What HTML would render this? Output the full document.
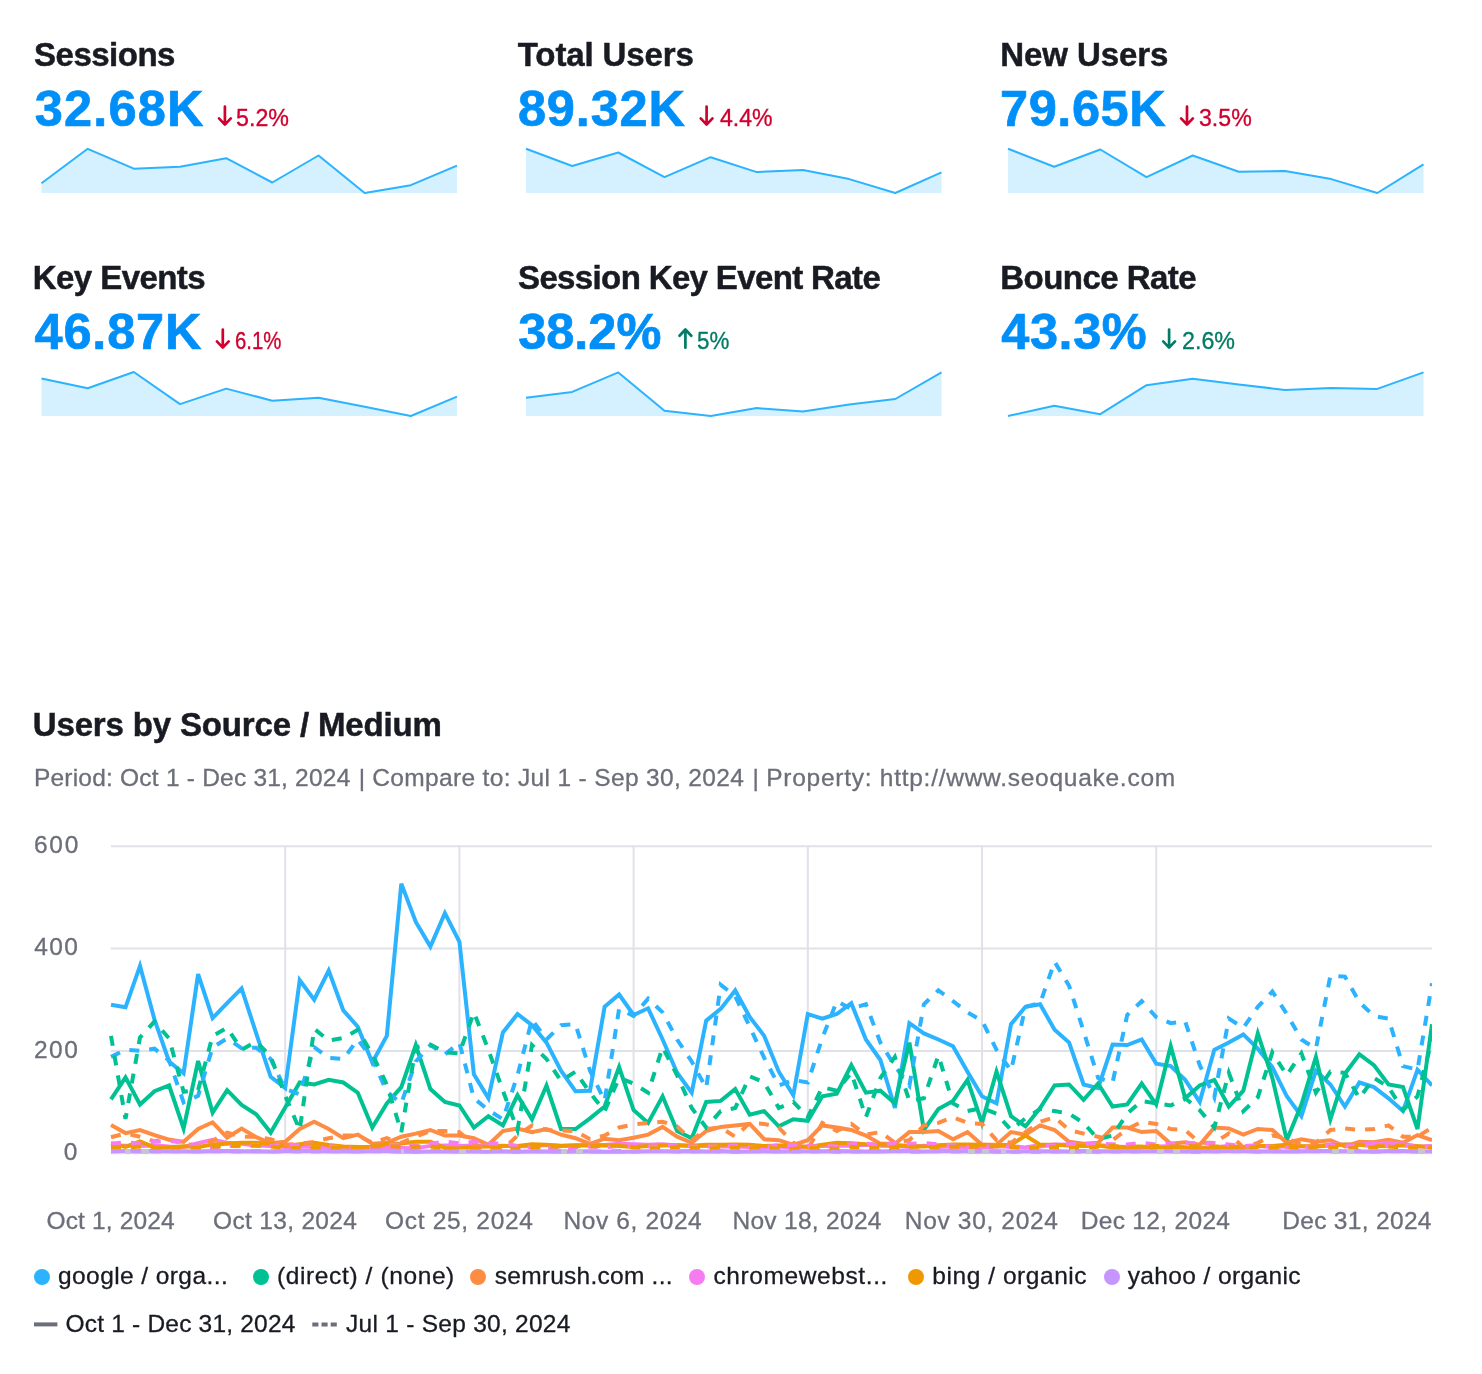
<!DOCTYPE html>
<html lang="en">
<head>
<meta charset="utf-8">
<title>Users by Source / Medium</title>
<style>
html,body{margin:0;padding:0;background:#fff;}
body{width:1482px;height:1374px;position:relative;overflow:hidden;font-family:"Liberation Sans",Arial,sans-serif;color:#191b23;}
.t{position:absolute;white-space:nowrap;line-height:1;margin:0;padding:0;}
.h{font-weight:700;font-size:33px;color:#191b23;-webkit-text-stroke:0.5px #191b23;}
.v{font-weight:700;font-size:50.5px;color:#008ff8;-webkit-text-stroke:0.7px #008ff8;}
.d{font-weight:400;font-size:24.5px;-webkit-text-stroke:0.35px currentColor;}
.red{color:#d1002f;} .green{color:#007c65;}
.sub{font-size:24.5px;color:#6c6e79;-webkit-text-stroke:0.3px #6c6e79;}
.ax{font-size:24.5px;color:#6c6e79;-webkit-text-stroke:0.3px #6c6e79;}
.lg{font-size:24.5px;color:#191b23;-webkit-text-stroke:0.3px #191b23;}
.dot{position:absolute;width:16px;height:16px;border-radius:50%;}
svg{position:absolute;left:0;top:0;overflow:visible;}
</style>
</head>
<body>

<svg id="sparks" width="1482" height="1374" viewBox="0 0 1482 1374">
<polygon fill="#d5f0ff" points="41.5,193 41.5,183.2 87.7,148.8 133.8,168.7 180.0,166.7 226.2,158.2 272.3,182.5 318.5,155.5 364.7,193.0 410.8,185.2 457.0,165.7 457.0,193"/>
<polyline fill="none" stroke="#2bb3ff" stroke-width="2" stroke-linejoin="round" points="41.5,183.2 87.7,148.8 133.8,168.7 180.0,166.7 226.2,158.2 272.3,182.5 318.5,155.5 364.7,193.0 410.8,185.2 457.0,165.7"/>
<path d="M224.9 106.5V124.4 M219.0 118.4L224.9 124.60000000000001L230.8 118.4" fill="none" stroke="#d1002f" stroke-width="2.7" stroke-linecap="round" stroke-linejoin="round"/>
<polygon fill="#d5f0ff" points="526.0,193 526.0,148.8 572.2,166.0 618.3,152.5 664.5,177.1 710.7,157.2 756.8,172.1 803.0,170.0 849.2,179.1 895.3,193.0 941.5,172.4 941.5,193"/>
<polyline fill="none" stroke="#2bb3ff" stroke-width="2" stroke-linejoin="round" points="526.0,148.8 572.2,166.0 618.3,152.5 664.5,177.1 710.7,157.2 756.8,172.1 803.0,170.0 849.2,179.1 895.3,193.0 941.5,172.4"/>
<path d="M706.6 106.5V124.4 M700.7 118.4L706.6 124.60000000000001L712.5 118.4" fill="none" stroke="#d1002f" stroke-width="2.7" stroke-linecap="round" stroke-linejoin="round"/>
<polygon fill="#d5f0ff" points="1008.0,193 1008.0,148.8 1054.2,166.7 1100.3,149.5 1146.5,177.1 1192.7,155.5 1238.8,171.7 1285.0,171.1 1331.2,179.1 1377.3,193.0 1423.5,164.3 1423.5,193"/>
<polyline fill="none" stroke="#2bb3ff" stroke-width="2" stroke-linejoin="round" points="1008.0,148.8 1054.2,166.7 1100.3,149.5 1146.5,177.1 1192.7,155.5 1238.8,171.7 1285.0,171.1 1331.2,179.1 1377.3,193.0 1423.5,164.3"/>
<path d="M1187.0 106.5V124.4 M1181.1 118.4L1187.0 124.60000000000001L1192.9 118.4" fill="none" stroke="#d1002f" stroke-width="2.7" stroke-linecap="round" stroke-linejoin="round"/>
<polygon fill="#d5f0ff" points="41.5,416 41.5,378.4 87.7,388.2 133.8,372.0 180.0,404.1 226.2,388.6 272.3,400.7 318.5,397.7 364.7,406.8 410.8,416.0 457.0,396.7 457.0,416"/>
<polyline fill="none" stroke="#2bb3ff" stroke-width="2" stroke-linejoin="round" points="41.5,378.4 87.7,388.2 133.8,372.0 180.0,404.1 226.2,388.6 272.3,400.7 318.5,397.7 364.7,406.8 410.8,416.0 457.0,396.7"/>
<path d="M222.8 329.5V347.4 M216.9 341.4L222.8 347.59999999999997L228.70000000000002 341.4" fill="none" stroke="#d1002f" stroke-width="2.7" stroke-linecap="round" stroke-linejoin="round"/>
<polygon fill="#d5f0ff" points="526.0,416 526.0,397.7 572.2,391.9 618.3,372.4 664.5,410.8 710.7,416.0 756.8,408.1 803.0,411.5 849.2,404.4 895.3,399.0 941.5,372.4 941.5,416"/>
<polyline fill="none" stroke="#2bb3ff" stroke-width="2" stroke-linejoin="round" points="526.0,397.7 572.2,391.9 618.3,372.4 664.5,410.8 710.7,416.0 756.8,408.1 803.0,411.5 849.2,404.4 895.3,399.0 941.5,372.4"/>
<path d="M685.4 347.7V329.8 M679.5 335.7L685.4 329.5L691.3 335.7" fill="none" stroke="#007c65" stroke-width="2.7" stroke-linecap="round" stroke-linejoin="round"/>
<polygon fill="#d5f0ff" points="1008.0,416 1008.0,416.0 1054.2,405.8 1100.3,414.2 1146.5,385.2 1192.7,378.8 1238.8,384.5 1285.0,389.9 1331.2,387.9 1377.3,388.9 1423.5,372.4 1423.5,416"/>
<polyline fill="none" stroke="#2bb3ff" stroke-width="2" stroke-linejoin="round" points="1008.0,416.0 1054.2,405.8 1100.3,414.2 1146.5,385.2 1192.7,378.8 1238.8,384.5 1285.0,389.9 1331.2,387.9 1377.3,388.9 1423.5,372.4"/>
<path d="M1169.1 329.5V347.4 M1163.1999999999998 341.4L1169.1 347.59999999999997L1175.0 341.4" fill="none" stroke="#007c65" stroke-width="2.7" stroke-linecap="round" stroke-linejoin="round"/>
</svg>
<svg id="chart" width="1482" height="1374" viewBox="0 0 1482 1374">
<defs><clipPath id="plot"><rect x="109" y="840" width="1323" height="320"/></clipPath></defs>
<g stroke="#e0e1e9" stroke-width="2" fill="none">
<line x1="110.8" x2="1432" y1="1153.15" y2="1153.15"/>
<line x1="110.8" x2="1432" y1="1050.88" y2="1050.88"/>
<line x1="110.8" x2="1432" y1="948.62" y2="948.62"/>
<line x1="110.8" x2="1432" y1="846.35" y2="846.35"/>
<line x1="285.2" x2="285.2" y1="846.4" y2="1153.2"/>
<line x1="459.4" x2="459.4" y1="846.4" y2="1153.2"/>
<line x1="633.6" x2="633.6" y1="846.4" y2="1153.2"/>
<line x1="807.8" x2="807.8" y1="846.4" y2="1153.2"/>
<line x1="982.0" x2="982.0" y1="846.4" y2="1153.2"/>
<line x1="1156.2" x2="1156.2" y1="846.4" y2="1153.2"/>
</g>
<g clip-path="url(#plot)" fill="none" stroke-width="4" stroke-linejoin="miter">
<polyline stroke="#2bb3ff" points="111.0,1004.8 125.5,1007.3 140.0,965.9 154.5,1019.6 169.1,1061.5 183.6,1073.3 198.1,974.1 212.6,1018.1 227.1,1003.2 241.6,988.4 256.2,1033.4 270.7,1076.8 285.2,1088.1 299.7,980.2 314.2,999.6 328.7,970.5 343.3,1010.4 357.8,1026.7 372.3,1062.5 386.8,1035.9 401.3,883.6 415.8,921.9 430.4,946.5 444.9,913.2 459.4,941.9 473.9,1074.3 488.4,1098.3 502.9,1032.4 517.5,1014.0 532.0,1025.2 546.5,1042.6 561.0,1070.7 575.5,1091.2 590.0,1090.7 604.6,1006.8 619.1,994.5 633.6,1015.0 648.1,1008.3 662.6,1039.5 677.1,1072.8 691.7,1092.7 706.2,1020.6 720.7,1008.9 735.2,990.4 749.7,1017.0 764.2,1035.9 778.8,1071.7 793.3,1095.3 807.8,1014.0 822.3,1018.6 836.8,1014.0 851.3,1003.2 865.9,1039.5 880.4,1060.0 894.9,1108.0 909.4,1023.2 923.9,1033.4 938.4,1039.5 953.0,1046.2 967.5,1071.7 982.0,1096.3 996.5,1103.4 1011.0,1024.2 1025.5,1006.8 1040.1,1004.2 1054.6,1029.8 1069.1,1042.6 1083.6,1084.5 1098.1,1088.1 1112.6,1044.6 1127.2,1045.1 1141.7,1039.5 1156.2,1063.6 1170.7,1066.1 1185.2,1079.9 1199.7,1101.9 1214.3,1049.8 1228.8,1042.6 1243.3,1034.4 1257.8,1048.7 1272.3,1067.1 1286.8,1096.3 1301.4,1116.2 1315.9,1070.7 1330.4,1084.5 1344.9,1106.5 1359.4,1082.5 1373.9,1087.1 1388.5,1098.3 1403.0,1111.1 1417.5,1069.7 1432.0,1085.5"/>
<polyline stroke="#00c192" points="111.0,1099.3 125.5,1077.4 140.0,1104.5 154.5,1091.2 169.1,1085.5 183.6,1128.5 198.1,1061.0 212.6,1112.6 227.1,1090.1 241.6,1105.0 256.2,1114.2 270.7,1132.6 285.2,1107.5 299.7,1082.5 314.2,1084.5 328.7,1079.9 343.3,1082.5 357.8,1092.7 372.3,1127.5 386.8,1103.4 401.3,1087.1 415.8,1045.1 430.4,1089.1 444.9,1101.9 459.4,1105.5 473.9,1127.5 488.4,1116.2 502.9,1125.4 517.5,1095.3 532.0,1119.3 546.5,1085.5 561.0,1129.0 575.5,1129.0 590.0,1118.3 604.6,1106.5 619.1,1067.1 633.6,1110.1 648.1,1122.9 662.6,1096.3 677.1,1131.0 691.7,1138.2 706.2,1101.9 720.7,1100.9 735.2,1089.1 749.7,1114.7 764.2,1111.1 778.8,1126.4 793.3,1119.3 807.8,1120.8 822.3,1096.3 836.8,1093.7 851.3,1065.1 865.9,1092.7 880.4,1090.7 894.9,1103.4 909.4,1042.6 923.9,1130.0 938.4,1109.1 953.0,1100.9 967.5,1079.9 982.0,1122.9 996.5,1071.7 1011.0,1116.2 1025.5,1126.4 1040.1,1108.0 1054.6,1085.5 1069.1,1084.5 1083.6,1099.9 1098.1,1083.5 1112.6,1106.5 1127.2,1104.5 1141.7,1083.5 1156.2,1104.5 1170.7,1046.2 1185.2,1098.3 1199.7,1085.5 1214.3,1079.9 1228.8,1106.5 1243.3,1090.7 1257.8,1033.4 1272.3,1077.9 1286.8,1140.2 1301.4,1104.5 1315.9,1056.9 1330.4,1119.3 1344.9,1073.8 1359.4,1054.4 1373.9,1065.1 1388.5,1084.5 1403.0,1087.1 1417.5,1129.0 1432.0,1024.2"/>
<polyline stroke="#ff8c43" points="111.0,1124.9 125.5,1133.1 140.0,1130.0 154.5,1135.1 169.1,1139.7 183.6,1141.8 198.1,1129.0 212.6,1122.3 227.1,1137.7 241.6,1128.5 256.2,1137.2 270.7,1143.3 285.2,1141.8 299.7,1129.0 314.2,1121.8 328.7,1129.0 343.3,1138.2 357.8,1134.6 372.3,1143.8 386.8,1142.8 401.3,1136.7 415.8,1133.6 430.4,1130.0 444.9,1135.6 459.4,1135.6 473.9,1138.2 488.4,1144.8 502.9,1131.0 517.5,1128.5 532.0,1132.1 546.5,1129.0 561.0,1134.6 575.5,1138.2 590.0,1143.8 604.6,1138.7 619.1,1140.2 633.6,1137.7 648.1,1134.6 662.6,1126.9 677.1,1136.7 691.7,1142.8 706.2,1131.0 720.7,1126.9 735.2,1125.4 749.7,1123.9 764.2,1139.2 778.8,1140.2 793.3,1144.8 807.8,1140.2 822.3,1125.4 836.8,1127.5 851.3,1130.0 865.9,1135.6 880.4,1143.8 894.9,1143.8 909.4,1132.1 923.9,1132.1 938.4,1131.0 953.0,1139.2 967.5,1132.1 982.0,1144.8 996.5,1144.8 1011.0,1132.1 1025.5,1134.6 1040.1,1125.4 1054.6,1130.0 1069.1,1141.8 1083.6,1143.8 1098.1,1142.8 1112.6,1127.5 1127.2,1127.5 1141.7,1132.1 1156.2,1131.0 1170.7,1143.8 1185.2,1142.3 1199.7,1144.8 1214.3,1127.5 1228.8,1128.5 1243.3,1134.6 1257.8,1129.0 1272.3,1130.0 1286.8,1142.8 1301.4,1139.2 1315.9,1141.8 1330.4,1140.2 1344.9,1146.4 1359.4,1141.8 1373.9,1142.3 1388.5,1139.7 1403.0,1142.8 1417.5,1135.1 1432.0,1140.2"/>
<polyline stroke="#f67cf2" points="111.0,1145.4 125.5,1145.8 140.0,1145.9 154.5,1145.4 169.1,1146.6 183.6,1146.9 198.1,1143.3 212.6,1139.7 227.1,1142.8 241.6,1143.7 256.2,1145.5 270.7,1145.9 285.2,1146.9 299.7,1146.7 314.2,1146.5 328.7,1148.1 343.3,1147.8 357.8,1148.4 372.3,1147.0 386.8,1147.4 401.3,1147.9 415.8,1148.3 430.4,1145.9 444.9,1145.4 459.4,1145.9 473.9,1145.6 488.4,1145.6 502.9,1145.9 517.5,1146.3 532.0,1146.3 546.5,1145.0 561.0,1145.8 575.5,1145.2 590.0,1144.8 604.6,1145.0 619.1,1143.8 633.6,1144.3 648.1,1144.7 662.6,1144.3 677.1,1145.4 691.7,1145.9 706.2,1145.9 720.7,1146.4 735.2,1146.4 749.7,1147.1 764.2,1147.8 778.8,1146.6 793.3,1147.9 807.8,1146.3 822.3,1146.0 836.8,1145.7 851.3,1145.8 865.9,1144.8 880.4,1145.8 894.9,1146.0 909.4,1146.9 923.9,1145.8 938.4,1146.9 953.0,1146.4 967.5,1147.8 982.0,1147.9 996.5,1146.5 1011.0,1146.2 1025.5,1147.4 1040.1,1146.5 1054.6,1144.5 1069.1,1144.8 1083.6,1145.4 1098.1,1144.9 1112.6,1146.6 1127.2,1146.9 1141.7,1147.8 1156.2,1146.6 1170.7,1146.3 1185.2,1147.3 1199.7,1147.8 1214.3,1147.2 1228.8,1145.9 1243.3,1146.9 1257.8,1146.1 1272.3,1147.1 1286.8,1146.5 1301.4,1146.5 1315.9,1146.3 1330.4,1144.5 1344.9,1144.8 1359.4,1144.8 1373.9,1143.4 1388.5,1142.8 1403.0,1144.3 1417.5,1146.2 1432.0,1146.9"/>
<polyline stroke="#ef9800" points="111.0,1143.3 125.5,1146.9 140.0,1141.3 154.5,1147.4 169.1,1147.5 183.6,1146.3 198.1,1146.9 212.6,1144.5 227.1,1143.8 241.6,1142.8 256.2,1142.8 270.7,1143.9 285.2,1145.9 299.7,1144.2 314.2,1142.8 328.7,1144.9 343.3,1146.5 357.8,1146.9 372.3,1146.8 386.8,1144.0 401.3,1143.4 415.8,1141.8 430.4,1141.8 444.9,1147.9 459.4,1148.5 473.9,1146.7 488.4,1146.6 502.9,1145.7 517.5,1146.1 532.0,1144.3 546.5,1144.8 561.0,1146.1 575.5,1145.4 590.0,1145.4 604.6,1145.4 619.1,1146.1 633.6,1146.9 648.1,1146.1 662.6,1145.6 677.1,1145.0 691.7,1145.8 706.2,1144.8 720.7,1144.8 735.2,1144.4 749.7,1144.7 764.2,1146.0 778.8,1145.6 793.3,1145.8 807.8,1146.9 822.3,1144.7 836.8,1142.8 851.3,1143.2 865.9,1144.3 880.4,1144.5 894.9,1145.0 909.4,1145.9 923.9,1146.6 938.4,1145.3 953.0,1144.4 967.5,1144.5 982.0,1144.7 996.5,1145.2 1011.0,1144.8 1025.5,1135.6 1040.1,1144.8 1054.6,1144.7 1069.1,1145.4 1083.6,1146.0 1098.1,1145.5 1112.6,1147.4 1127.2,1146.9 1141.7,1146.5 1156.2,1148.2 1170.7,1147.2 1185.2,1147.6 1199.7,1148.3 1214.3,1147.9 1228.8,1147.0 1243.3,1146.9 1257.8,1146.1 1272.3,1145.9 1286.8,1144.8 1301.4,1146.0 1315.9,1146.4 1330.4,1145.6 1344.9,1144.6 1359.4,1144.8 1373.9,1145.9 1388.5,1146.3 1403.0,1145.3 1417.5,1146.2 1432.0,1146.9"/>
<polyline stroke="#c695ff" points="111.0,1151.2 125.5,1151.0 140.0,1151.0 154.5,1150.9 169.1,1151.3 183.6,1151.2 198.1,1151.5 212.6,1151.1 227.1,1151.1 241.6,1151.2 256.2,1151.2 270.7,1151.5 285.2,1151.0 299.7,1151.0 314.2,1151.0 328.7,1151.3 343.3,1151.2 357.8,1151.5 372.3,1151.1 386.8,1151.1 401.3,1151.5 415.8,1151.7 430.4,1151.4 444.9,1151.4 459.4,1151.2 473.9,1151.4 488.4,1151.8 502.9,1151.2 517.5,1151.8 532.0,1151.3 546.5,1151.5 561.0,1151.7 575.5,1151.6 590.0,1151.2 604.6,1151.7 619.1,1151.7 633.6,1151.4 648.1,1151.3 662.6,1151.2 677.1,1151.3 691.7,1151.1 706.2,1151.4 720.7,1151.1 735.2,1151.7 749.7,1151.6 764.2,1151.3 778.8,1151.5 793.3,1151.2 807.8,1151.2 822.3,1151.3 836.8,1151.1 851.3,1151.3 865.9,1151.4 880.4,1151.4 894.9,1151.0 909.4,1151.0 923.9,1151.5 938.4,1151.0 953.0,1150.9 967.5,1151.2 982.0,1151.2 996.5,1151.2 1011.0,1151.4 1025.5,1151.2 1040.1,1151.2 1054.6,1151.2 1069.1,1151.6 1083.6,1150.9 1098.1,1151.2 1112.6,1151.3 1127.2,1151.0 1141.7,1151.2 1156.2,1151.2 1170.7,1151.1 1185.2,1151.5 1199.7,1151.2 1214.3,1151.3 1228.8,1150.9 1243.3,1150.9 1257.8,1151.4 1272.3,1151.2 1286.8,1151.5 1301.4,1151.3 1315.9,1151.0 1330.4,1150.9 1344.9,1151.2 1359.4,1151.4 1373.9,1151.4 1388.5,1151.1 1403.0,1150.9 1417.5,1151.5 1432.0,1151.2"/>
<polyline stroke="#2bb3ff" stroke-dasharray="10 10" points="111.0,1056.9 125.5,1049.8 140.0,1050.8 154.5,1048.7 169.1,1060.5 183.6,1102.4 198.1,1095.8 212.6,1047.2 227.1,1038.5 241.6,1048.2 256.2,1047.7 270.7,1059.0 285.2,1089.1 299.7,1094.2 314.2,1047.2 328.7,1057.9 343.3,1059.0 357.8,1039.5 372.3,1059.0 386.8,1091.7 401.3,1103.4 415.8,1061.5 430.4,1045.1 444.9,1054.4 459.4,1042.6 473.9,1098.3 488.4,1110.1 502.9,1119.3 517.5,1075.3 532.0,1019.6 546.5,1039.5 561.0,1025.2 575.5,1024.2 590.0,1070.7 604.6,1100.9 619.1,1008.9 633.6,1016.0 648.1,998.6 662.6,1012.4 677.1,1039.5 691.7,1061.5 706.2,1088.1 720.7,984.8 735.2,996.1 749.7,1026.7 764.2,1057.9 778.8,1085.5 793.3,1079.9 807.8,1082.5 822.3,1038.0 836.8,1001.2 851.3,1008.9 865.9,1004.2 880.4,1042.6 894.9,1066.1 909.4,1085.5 923.9,1004.2 938.4,990.4 953.0,1001.2 967.5,1012.4 982.0,1020.6 996.5,1049.8 1011.0,1070.7 1025.5,1006.8 1040.1,1003.2 1054.6,961.8 1069.1,985.8 1083.6,1031.3 1098.1,1077.9 1112.6,1082.5 1127.2,1015.0 1141.7,1001.2 1156.2,1017.0 1170.7,1023.2 1185.2,1021.6 1199.7,1065.1 1214.3,1097.3 1228.8,1018.6 1243.3,1027.8 1257.8,1006.8 1272.3,991.5 1286.8,1014.0 1301.4,1039.5 1315.9,1048.7 1330.4,975.6 1344.9,976.6 1359.4,1002.2 1373.9,1016.0 1388.5,1018.6 1403.0,1066.1 1417.5,1069.7 1432.0,983.3"/>
<polyline stroke="#00c192" stroke-dasharray="10 10" points="111.0,1035.9 125.5,1118.8 140.0,1037.5 154.5,1021.6 169.1,1038.5 183.6,1091.7 198.1,1090.1 212.6,1035.9 227.1,1027.8 241.6,1049.8 256.2,1041.6 270.7,1056.4 285.2,1095.8 299.7,1130.0 314.2,1028.8 328.7,1040.5 343.3,1038.0 357.8,1029.8 372.3,1054.4 386.8,1084.5 401.3,1132.1 415.8,1047.2 430.4,1044.6 444.9,1052.3 459.4,1053.3 473.9,1012.4 488.4,1049.8 502.9,1090.7 517.5,1130.0 532.0,1045.1 546.5,1059.0 561.0,1080.9 575.5,1071.7 590.0,1092.7 604.6,1111.1 619.1,1077.9 633.6,1083.5 648.1,1092.7 662.6,1047.2 677.1,1075.3 691.7,1108.0 706.2,1127.5 720.7,1111.1 735.2,1108.0 749.7,1076.3 764.2,1082.5 778.8,1108.0 793.3,1101.9 807.8,1117.2 822.3,1087.1 836.8,1090.7 851.3,1072.8 865.9,1117.2 880.4,1077.9 894.9,1056.9 909.4,1100.9 923.9,1098.3 938.4,1055.4 953.0,1103.4 967.5,1111.1 982.0,1108.0 996.5,1113.7 1011.0,1130.0 1025.5,1118.3 1040.1,1109.1 1054.6,1111.1 1069.1,1113.7 1083.6,1122.9 1098.1,1139.2 1112.6,1135.6 1127.2,1113.7 1141.7,1100.9 1156.2,1103.4 1170.7,1105.5 1185.2,1098.3 1199.7,1110.1 1214.3,1127.5 1228.8,1072.8 1243.3,1111.1 1257.8,1097.3 1272.3,1052.3 1286.8,1075.3 1301.4,1053.3 1315.9,1092.7 1330.4,1071.7 1344.9,1072.8 1359.4,1098.3 1373.9,1077.9 1388.5,1087.1 1403.0,1110.1 1417.5,1096.3 1432.0,1039.5"/>
<polyline stroke="#ff8c43" stroke-dasharray="10 10" points="111.0,1137.2 125.5,1133.6 140.0,1136.7 154.5,1141.3 169.1,1139.2 183.6,1143.8 198.1,1145.9 212.6,1140.8 227.1,1132.6 241.6,1136.7 256.2,1136.7 270.7,1139.2 285.2,1144.8 299.7,1143.8 314.2,1141.8 328.7,1138.2 343.3,1135.6 357.8,1135.6 372.3,1142.8 386.8,1138.2 401.3,1142.8 415.8,1136.7 430.4,1131.0 444.9,1131.0 459.4,1132.1 473.9,1144.8 488.4,1149.4 502.9,1149.4 517.5,1135.6 532.0,1125.4 546.5,1130.0 561.0,1130.5 575.5,1131.0 590.0,1139.2 604.6,1135.6 619.1,1127.5 633.6,1124.4 648.1,1122.9 662.6,1121.8 677.1,1126.4 691.7,1140.2 706.2,1129.0 720.7,1127.5 735.2,1136.7 749.7,1122.9 764.2,1123.9 778.8,1127.5 793.3,1142.8 807.8,1149.4 822.3,1122.9 836.8,1131.0 851.3,1123.9 865.9,1134.6 880.4,1132.1 894.9,1142.8 909.4,1140.2 923.9,1125.4 938.4,1122.9 953.0,1117.2 967.5,1122.9 982.0,1123.9 996.5,1140.2 1011.0,1142.8 1025.5,1132.1 1040.1,1121.8 1054.6,1117.2 1069.1,1130.0 1083.6,1133.6 1098.1,1136.7 1112.6,1140.2 1127.2,1129.0 1141.7,1121.8 1156.2,1123.9 1170.7,1129.0 1185.2,1130.0 1199.7,1142.8 1214.3,1142.8 1228.8,1133.6 1243.3,1147.4 1257.8,1142.8 1272.3,1135.6 1286.8,1138.2 1301.4,1144.8 1315.9,1142.8 1330.4,1130.0 1344.9,1128.5 1359.4,1130.0 1373.9,1129.0 1388.5,1125.4 1403.0,1136.7 1417.5,1136.7 1432.0,1127.5"/>
<polyline stroke="#f67cf2" stroke-dasharray="10 10" points="111.0,1143.8 125.5,1142.4 140.0,1143.6 154.5,1141.8 169.1,1141.3 183.6,1141.8 198.1,1146.9 212.6,1147.6 227.1,1146.1 241.6,1146.2 256.2,1144.8 270.7,1146.1 285.2,1144.4 299.7,1145.5 314.2,1147.5 328.7,1146.2 343.3,1147.9 357.8,1148.1 372.3,1146.9 386.8,1144.8 401.3,1144.7 415.8,1145.7 430.4,1143.8 444.9,1141.6 459.4,1143.4 473.9,1141.8 488.4,1143.8 502.9,1143.4 517.5,1146.0 532.0,1147.3 546.5,1147.9 561.0,1148.9 575.5,1148.5 590.0,1146.6 604.6,1147.3 619.1,1145.9 633.6,1145.9 648.1,1146.4 662.6,1146.3 677.1,1144.9 691.7,1146.6 706.2,1146.5 720.7,1146.9 735.2,1145.6 749.7,1147.5 764.2,1147.4 778.8,1144.9 793.3,1145.0 807.8,1145.9 822.3,1146.3 836.8,1146.2 851.3,1144.2 865.9,1143.4 880.4,1145.4 894.9,1142.7 909.4,1143.8 923.9,1143.1 938.4,1144.4 953.0,1145.4 967.5,1146.8 982.0,1147.4 996.5,1145.0 1011.0,1146.9 1025.5,1147.2 1040.1,1145.3 1054.6,1146.1 1069.1,1143.9 1083.6,1144.0 1098.1,1143.8 1112.6,1144.3 1127.2,1144.5 1141.7,1142.6 1156.2,1144.5 1170.7,1143.8 1185.2,1142.8 1199.7,1143.3 1214.3,1143.1 1228.8,1144.5 1243.3,1146.2 1257.8,1144.9 1272.3,1146.9 1286.8,1147.4 1301.4,1147.7 1315.9,1146.6 1330.4,1145.7 1344.9,1146.5 1359.4,1144.8 1373.9,1146.0 1388.5,1145.7 1403.0,1145.3 1417.5,1146.8 1432.0,1145.9"/>
<polyline stroke="#ef9800" stroke-dasharray="10 10" points="111.0,1147.4 125.5,1147.7 140.0,1146.6 154.5,1148.2 169.1,1147.9 183.6,1147.0 198.1,1147.7 212.6,1146.5 227.1,1145.9 241.6,1145.6 256.2,1145.8 270.7,1146.4 285.2,1147.9 299.7,1148.1 314.2,1147.4 328.7,1148.0 343.3,1148.3 357.8,1147.3 372.3,1146.3 386.8,1146.1 401.3,1146.9 415.8,1146.7 430.4,1146.4 444.9,1148.5 459.4,1149.1 473.9,1148.7 488.4,1148.9 502.9,1149.0 517.5,1148.6 532.0,1147.6 546.5,1146.6 561.0,1146.4 575.5,1145.9 590.0,1146.6 604.6,1145.5 619.1,1145.4 633.6,1147.0 648.1,1148.2 662.6,1148.6 677.1,1146.7 691.7,1147.9 706.2,1149.1 720.7,1147.4 735.2,1147.7 749.7,1148.4 764.2,1147.1 778.8,1149.1 793.3,1148.8 807.8,1147.9 822.3,1147.9 836.8,1148.9 851.3,1146.7 865.9,1148.1 880.4,1148.2 894.9,1148.3 909.4,1146.7 923.9,1146.9 938.4,1147.1 953.0,1146.7 967.5,1146.7 982.0,1146.4 996.5,1146.0 1011.0,1146.8 1025.5,1148.1 1040.1,1147.4 1054.6,1147.2 1069.1,1147.9 1083.6,1148.1 1098.1,1146.7 1112.6,1145.9 1127.2,1147.1 1141.7,1146.6 1156.2,1145.9 1170.7,1146.5 1185.2,1145.9 1199.7,1146.6 1214.3,1146.6 1228.8,1146.5 1243.3,1147.7 1257.8,1146.9 1272.3,1147.9 1286.8,1146.8 1301.4,1148.9 1315.9,1146.7 1330.4,1147.1 1344.9,1148.6 1359.4,1147.8 1373.9,1147.2 1388.5,1146.5 1403.0,1147.8 1417.5,1147.2 1432.0,1147.4"/>
<polyline stroke="#c695ff" stroke-dasharray="10 10" points="111.0,1151.2 125.5,1151.0 140.0,1151.6 154.5,1151.4 169.1,1151.4 183.6,1151.1 198.1,1151.3 212.6,1151.3 227.1,1151.1 241.6,1151.5 256.2,1151.1 270.7,1151.5 285.2,1151.2 299.7,1151.4 314.2,1151.4 328.7,1151.2 343.3,1151.3 357.8,1151.3 372.3,1151.3 386.8,1151.2 401.3,1151.5 415.8,1151.4 430.4,1151.1 444.9,1151.1 459.4,1151.2 473.9,1151.0 488.4,1151.1 502.9,1151.0 517.5,1151.4 532.0,1151.1 546.5,1151.2 561.0,1151.0 575.5,1151.0 590.0,1151.4 604.6,1151.4 619.1,1151.0 633.6,1151.5 648.1,1150.9 662.6,1151.0 677.1,1151.6 691.7,1151.5 706.2,1151.2 720.7,1151.5 735.2,1151.6 749.7,1151.1 764.2,1151.4 778.8,1151.2 793.3,1151.6 807.8,1151.4 822.3,1151.3 836.8,1151.7 851.3,1151.6 865.9,1151.3 880.4,1151.1 894.9,1151.1 909.4,1151.7 923.9,1151.4 938.4,1151.3 953.0,1151.5 967.5,1151.3 982.0,1151.5 996.5,1151.7 1011.0,1151.8 1025.5,1151.7 1040.1,1151.8 1054.6,1151.4 1069.1,1151.4 1083.6,1151.4 1098.1,1151.7 1112.6,1151.6 1127.2,1151.6 1141.7,1151.1 1156.2,1151.0 1170.7,1151.1 1185.2,1151.6 1199.7,1151.7 1214.3,1151.0 1228.8,1151.4 1243.3,1151.1 1257.8,1151.4 1272.3,1151.3 1286.8,1151.3 1301.4,1151.3 1315.9,1151.2 1330.4,1151.6 1344.9,1151.1 1359.4,1151.0 1373.9,1151.5 1388.5,1151.3 1403.0,1151.1 1417.5,1151.3 1432.0,1151.2"/>
<path stroke="#c4c7cf" stroke-width="5" d="M125 1151.4H130.4 M141.3 1151.4H149 M401 1151.4H404 M459 1151.4H466 M561 1151.4H567 M576 1151.4H583 M968 1151.4H975 M982 1151.4H989 M1001 1151.4H1006 M1070 1151.4H1075 M1086 1151.4H1092 M1157 1151.4H1164 M1173 1151.4H1180 M1332 1151.4H1339 M1347 1151.4H1354 M1418 1151.4H1425"/>
</g>
<line x1="34" x2="57.4" y1="1324.4" y2="1324.4" stroke="#6c6e79" stroke-width="4"/>
<line x1="312.3" x2="336.8" y1="1324.5" y2="1324.5" stroke="#6c6e79" stroke-width="4" stroke-dasharray="6.1 3.1"/>
</svg>
<div class="dot" style="left:33.8px;top:1268.7px;background:#2bb3ff"></div>
<div class="dot" style="left:252.6px;top:1268.7px;background:#00c192"></div>
<div class="dot" style="left:470.0px;top:1268.7px;background:#ff8c43"></div>
<div class="dot" style="left:688.8px;top:1268.7px;background:#f67cf2"></div>
<div class="dot" style="left:908.4px;top:1268.7px;background:#ef9800"></div>
<div class="dot" style="left:1103.6px;top:1268.7px;background:#c695ff"></div>
<div class="t h" id="h0" style="left:34.02px;top:37.77px;letter-spacing:-0.495px;">Sessions</div>
<div class="t v" id="v0" style="left:34.65px;top:83.65px;letter-spacing:1.218px;">32.68K</div>
<div class="t d red" id="d0" style="left:236.33px;top:105.56px;transform:scaleX(0.9487);transform-origin:0 0;">5.2%</div>
<div class="t h" id="h1" style="left:517.76px;top:37.77px;letter-spacing:-0.116px;">Total Users</div>
<div class="t v" id="v1" style="left:517.93px;top:83.65px;letter-spacing:0.850px;">89.32K</div>
<div class="t d red" id="d1" style="left:720.00px;top:105.56px;transform:scaleX(0.9424);transform-origin:0 0;">4.4%</div>
<div class="t h" id="h2" style="left:1000.24px;top:37.77px;letter-spacing:-0.088px;">New Users</div>
<div class="t v" id="v2" style="left:1000.05px;top:83.65px;letter-spacing:0.562px;">79.65K</div>
<div class="t d red" id="d2" style="left:1199.41px;top:105.56px;transform:scaleX(0.9434);transform-origin:0 0;">3.5%</div>
<div class="t h" id="h3" style="left:32.84px;top:260.77px;letter-spacing:-0.574px;">Key Events</div>
<div class="t v" id="v3" style="left:34.56px;top:306.65px;letter-spacing:0.807px;">46.87K</div>
<div class="t d red" id="d3" style="left:234.64px;top:328.56px;transform:scaleX(0.8311);transform-origin:0 0;">6.1%</div>
<div class="t h" id="h4" style="left:518.02px;top:260.77px;letter-spacing:-0.631px;">Session Key Event Rate</div>
<div class="t v" id="v4" style="left:518.21px;top:306.65px;letter-spacing:-0.027px;">38.2%</div>
<div class="t d green" id="d4" style="left:696.98px;top:328.56px;transform:scaleX(0.9110);transform-origin:0 0;">5%</div>
<div class="t h" id="h5" style="left:1000.24px;top:260.77px;letter-spacing:-0.526px;">Bounce Rate</div>
<div class="t v" id="v5" style="left:1001.32px;top:306.65px;letter-spacing:0.538px;">43.3%</div>
<div class="t d green" id="d5" style="left:1181.78px;top:328.56px;transform:scaleX(0.9497);transform-origin:0 0;">2.6%</div>
<div class="t h" id="ct" style="left:32.80px;top:708.17px;letter-spacing:-0.158px;">Users by Source / Medium</div>
<div class="t sub" id="cs1" style="left:33.94px;top:766.06px;letter-spacing:0.216px;">Period: Oct 1 - Dec 31, 2024</div>
<div class="t sub" id="cs2" style="left:358.73px;top:766.06px;">|</div>
<div class="t sub" id="cs3" style="left:372.29px;top:766.06px;letter-spacing:0.341px;">Compare to: Jul 1 - Sep 30, 2024</div>
<div class="t sub" id="cs4" style="left:752.58px;top:766.06px;">|</div>
<div class="t sub" id="cs5" style="left:766.23px;top:766.06px;letter-spacing:0.737px;">Property: http://www.seoquake.com</div>
<div class="t ax" id="y0" style="left:63.74px;top:1139.81px;">0</div>
<div class="t ax" id="y200" style="left:33.92px;top:1037.54px;letter-spacing:1.514px;">200</div>
<div class="t ax" id="y400" style="left:34.19px;top:935.28px;letter-spacing:1.383px;">400</div>
<div class="t ax" id="y600" style="left:34.00px;top:833.01px;letter-spacing:1.717px;">600</div>
<div class="t ax" id="x0" style="left:46.53px;top:1209.26px;letter-spacing:0.146px;">Oct 1, 2024</div>
<div class="t ax" id="x12" style="left:213.05px;top:1209.26px;letter-spacing:0.323px;">Oct 13, 2024</div>
<div class="t ax" id="x24" style="left:385.00px;top:1209.26px;letter-spacing:0.696px;">Oct 25, 2024</div>
<div class="t ax" id="x36" style="left:563.50px;top:1209.26px;letter-spacing:0.613px;">Nov 6, 2024</div>
<div class="t ax" id="x48" style="left:732.44px;top:1209.26px;letter-spacing:0.301px;">Nov 18, 2024</div>
<div class="t ax" id="x60" style="left:904.84px;top:1209.26px;letter-spacing:0.662px;">Nov 30, 2024</div>
<div class="t ax" id="x72" style="left:1080.73px;top:1209.26px;letter-spacing:0.318px;">Dec 12, 2024</div>
<div class="t ax" id="x91" style="left:1282.23px;top:1209.26px;letter-spacing:0.318px;">Dec 31, 2024</div>
<div class="t lg" id="l0" style="left:58.01px;top:1263.96px;letter-spacing:0.416px;">google / orga...</div>
<div class="t lg" id="l1" style="left:277.06px;top:1263.96px;letter-spacing:0.610px;">(direct) / (none)</div>
<div class="t lg" id="l2" style="left:494.82px;top:1263.96px;letter-spacing:0.244px;">semrush.com ...</div>
<div class="t lg" id="l3" style="left:713.43px;top:1263.96px;letter-spacing:0.602px;">chromewebst...</div>
<div class="t lg" id="l4" style="left:932.29px;top:1263.96px;letter-spacing:0.555px;">bing / organic</div>
<div class="t lg" id="l5" style="left:1127.69px;top:1263.96px;letter-spacing:0.379px;">yahoo / organic</div>
<div class="t lg" id="p0" style="left:65.50px;top:1311.86px;letter-spacing:0.199px;">Oct 1 - Dec 31, 2024</div>
<div class="t lg" id="p1" style="left:346.00px;top:1311.86px;letter-spacing:0.267px;">Jul 1 - Sep 30, 2024</div>
</body>
</html>
